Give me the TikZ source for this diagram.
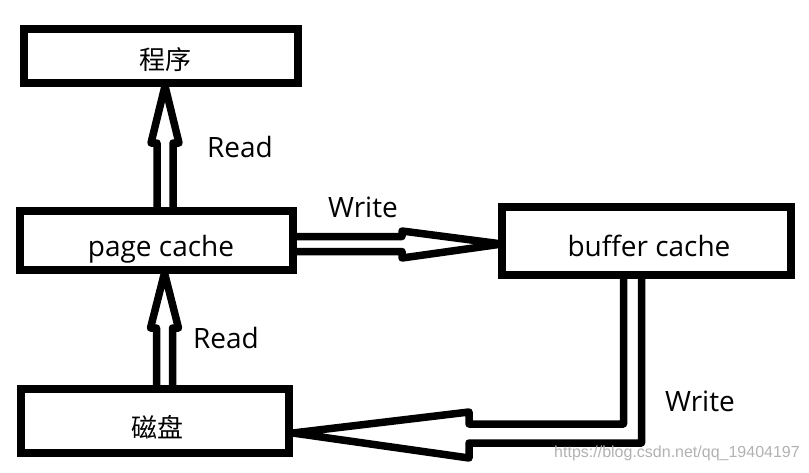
\documentclass[tikz,border=0pt]{standalone}
\usepackage{fontspec}
\setmainfont{Open Sans}
\newfontfamily\cjk{Noto Sans CJK SC}
\newfontfamily\wmfont{Liberation Sans}
\usetikzlibrary{calc}
\tikzset{
  box/.style={draw=black, line width=8pt, fill=white, inner sep=0pt, outer sep=0pt},
  hollow/.style={draw=black, line width=7.5pt, line join=round, line cap=butt},
  lbl/.style={inner sep=0pt, font=\fontsize{28}{30}\selectfont},
  txt/.style={inner sep=0pt, anchor=base, font=\fontsize{28}{30}\selectfont},
  cjktxt/.style={inner sep=0pt, anchor=base, font=\cjk\fontsize{26}{30}\selectfont},
  wm/.style={inner sep=0pt, text=black!30, font=\wmfont\fontsize{16}{18}\selectfont}
}
\begin{document}
\begin{tikzpicture}[x=1pt, y=-1pt]
\useasboundingbox[fill=white] (0,0) rectangle (809,472);
% boxes
\node[box, minimum width=274pt, minimum height=54pt] (prog) at (161,56) {};
\node[box, minimum width=273pt, minimum height=59pt] (pc) at (156.5,240.5) {};
\node[box, minimum width=268pt, minimum height=64pt] (dp) at (155,421) {};
\node[box, minimum width=289pt, minimum height=68pt] (bc) at (646.5,241) {};
% box texts
\node[cjktxt] (progt) at ($(prog.center)+(4.5,13.5)$) {程序};
\node[txt] (pct) at ($(pc.center)+(4.5,16)$) {page cache};
\node[cjktxt] (dpt) at ($(dp.center)+(2.5,16.5)$) {磁盘};
\node[txt] (bct) at ($(bc.center)+(2.5,15)$) {buffer cache};
% Read: page cache -> program
\draw[hollow] ($(pc.north)+(0.5,0)$) -- ++(0,-68) -- ++(-6,0)
  -- ($(prog.south)+(4,3)$)
  -- ($(pc.north)+(22.5,-68)$) -- ++(-6,0) -- ++(0,68);
% Read: disk -> page cache
\draw[hollow] ($(dp.north)+(1.5,0)$) -- ++(0,-61) -- ++(-6,0)
  -- ($(pc.south)+(8,3)$)
  -- ($(dp.north)+(23.5,-61)$) -- ++(-6,0) -- ++(0,61);
% Write: page cache -> buffer cache
\draw[hollow] ($(pc.east)+(0,-4)$) -- ++(109,0) -- ++(0,-5.5)
  -- ($(bc.west)+(0,3)$)
  -- ($(pc.east)+(109,17.5)$) -- ++(0,-6.5) -- ++(-109,0);
% Write: buffer cache -> disk
\draw[hollow] ($(bc.south)+(-23,0)$) -- ++(0,149) -- ++(-154.5,0) -- ++(0,-12)
  -- ($(dp.east)+(4,12)$)
  -- ($(bc.south)+(-177.5,183)$) -- ++(0,-15) -- ++(172.5,0) -- ++(0,-168);
% labels
\node[lbl] (r1) at (240,147) {Read};
\node[lbl] (r2) at (226,338) {Read};
\node[lbl] (w1) at (363,207) {Write};
\node[lbl] (w2) at (700,401) {Write};
\node[wm] (url) at (677,453) {https://blog.csdn.net/qq\_19404197};
\end{tikzpicture}
\end{document}
